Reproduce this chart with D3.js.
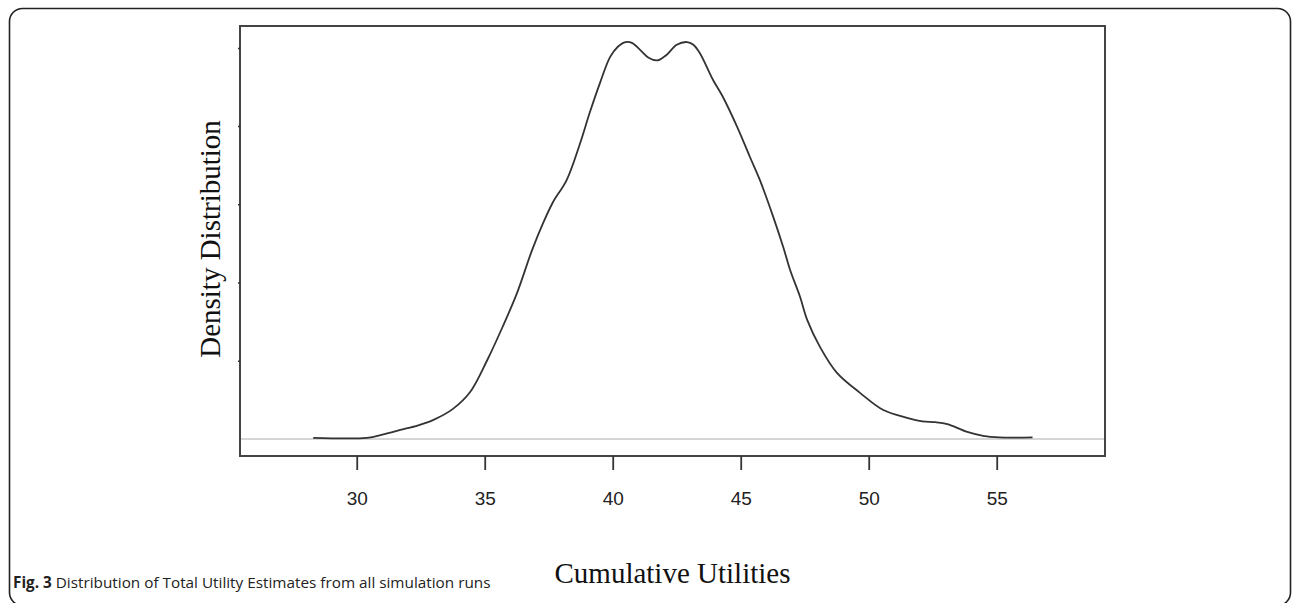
<!DOCTYPE html>
<html>
<head>
<meta charset="utf-8">
<script src="https://cdn.jsdelivr.net/npm/d3@7"></script>
<style>
  html, body { margin: 0; padding: 0; background: #fff; }
  svg { display: block; }
</style>
</head>
<body>
<div id="chart"></div>
<script>
// Kernel density: utility value -> density
const utility = [28.3, 30.4, 31.0, 31.7, 32.4, 33.0, 33.76, 34.43, 35.1, 35.7, 36.26, 36.85, 37.3, 37.67, 38.2, 38.73, 39.1, 39.5, 39.9, 40.2, 40.5, 40.75, 41.07, 41.4, 41.75, 42.1, 42.5, 42.9, 43.15, 43.4, 43.92, 44.3, 44.86, 45.36, 45.75, 46.27, 46.66, 46.93, 47.32, 47.6, 48.1, 48.76, 49.66, 50.57, 51.5, 52.1, 52.6, 53.07, 53.85, 54.47, 55.1, 56.4];
const density = [0.0003, 0.0003, 0.0011, 0.0023, 0.0035, 0.0049, 0.0077, 0.012, 0.0202, 0.0287, 0.0373, 0.0483, 0.0555, 0.0606, 0.0662, 0.0757, 0.0834, 0.091, 0.0977, 0.1003, 0.1015, 0.1013, 0.0995, 0.0975, 0.0968, 0.0982, 0.1008, 0.1015, 0.1008, 0.0987, 0.0918, 0.0875, 0.0798, 0.0721, 0.0662, 0.0568, 0.0491, 0.0432, 0.0363, 0.0304, 0.0235, 0.0169, 0.0118, 0.0074, 0.0054, 0.0045, 0.0043, 0.0038, 0.0018, 0.0008, 0.0004, 0.0004];
const xTicks = [30, 35, 40, 45, 50, 55];
const yTicks = [0.02, 0.04, 0.06, 0.08, 0.10];

const width = 1292, height = 603;
const box = { left: 240, right: 1105, top: 26, bottom: 456 };

const svg = d3.select("#chart").append("svg")
  .attr("width", width)
  .attr("height", height);

// outer figure frame
svg.append("rect")
  .attr("x", 9.5).attr("y", 8.5)
  .attr("width", 1281).attr("height", 597)
  .attr("rx", 13)
  .attr("fill", "none")
  .attr("stroke", "#222")
  .attr("stroke-width", 1.6);

const x = d3.scaleLinear().domain([25.44, 59.23]).range([box.left, box.right]);
const y = d3.scaleLinear().domain([-0.00435, 0.1056]).range([box.bottom, box.top]);

// zero line
svg.append("line")
  .attr("x1", box.left).attr("x2", box.right)
  .attr("y1", y(0)).attr("y2", y(0))
  .attr("stroke", "#c8c8c8")
  .attr("stroke-width", 1.6);

// density curve
const line = d3.line()
  .x((d, i) => x(utility[i]))
  .y((d) => y(d))
  .curve(d3.curveCatmullRom.alpha(0.5));

svg.append("path")
  .datum(density)
  .attr("d", line)
  .attr("fill", "none")
  .attr("stroke", "#333")
  .attr("stroke-width", 1.8);

// plot box
svg.append("rect")
  .attr("x", box.left).attr("y", box.top)
  .attr("width", box.right - box.left).attr("height", box.bottom - box.top)
  .attr("fill", "none")
  .attr("stroke", "#444")
  .attr("stroke-width", 2);

// x axis
const xAxis = svg.append("g")
  .attr("transform", "translate(0," + box.bottom + ")")
  .call(d3.axisBottom(x).tickValues(xTicks).tickSize(14).tickPadding(22).tickFormat(d3.format("d")));
xAxis.select(".domain").remove();
xAxis.selectAll("line").attr("stroke", "#333").attr("stroke-width", 1.8);
xAxis.selectAll("text")
  .attr("fill", "#222")
  .style("font-family", "'Liberation Sans', Arial, sans-serif")
  .style("font-size", "19px");

// y axis (ticks only, no labels)
const yAxis = svg.append("g")
  .attr("transform", "translate(" + box.left + ",0)")
  .call(d3.axisLeft(y).tickValues(yTicks).tickSize(2).tickFormat(""));
yAxis.select(".domain").remove();
yAxis.selectAll("line").attr("stroke", "#333").attr("stroke-width", 1.5);

// axis titles
svg.append("text")
  .attr("x", (box.left + box.right) / 2)
  .attr("y", 583)
  .attr("text-anchor", "middle")
  .style("font-family", "'Liberation Serif', 'Times New Roman', serif")
  .style("font-size", "29px")
  .attr("fill", "#111")
  .text("Cumulative Utilities");

svg.append("text")
  .attr("transform", "translate(220,239) rotate(-90)")
  .attr("text-anchor", "middle")
  .style("font-family", "'Liberation Serif', 'Times New Roman', serif")
  .style("font-size", "29px")
  .attr("fill", "#111")
  .text("Density Distribution");

// caption
const cap = svg.append("text")
  .attr("x", 13)
  .attr("y", 588)
  .style("font-family", "'Open Sans', sans-serif")
  .style("font-size", "15.3px")
  .attr("fill", "#222");
cap.append("tspan").style("font-weight", "bold").text("Fig. 3");
cap.append("tspan").text(" Distribution of Total Utility Estimates from all simulation runs");
</script>
</body>
</html>
